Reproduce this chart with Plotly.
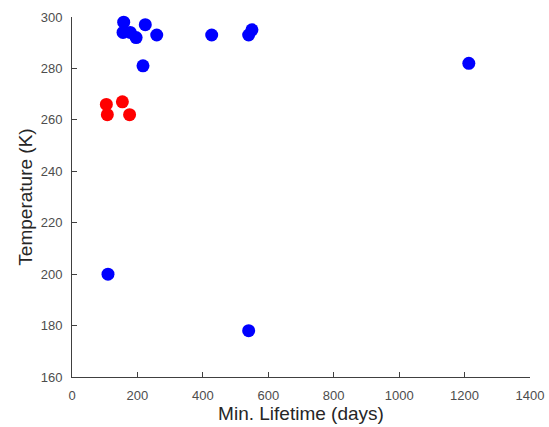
import plotly.graph_objects as go

# Blue series
blue_x = [158, 156, 178, 196, 224, 259, 217, 427, 540, 550, 1213, 110, 540]
blue_y = [298, 294, 294, 292, 297, 293, 281, 293, 293, 295, 282, 200, 178]
# Red series
red_x = [105, 108, 154, 176]
red_y = [266, 262, 267, 262]

x_ticks = [0, 200, 400, 600, 800, 1000, 1200, 1400]
y_ticks = [160, 180, 200, 220, 240, 260, 280, 300]

fig = go.Figure()
fig.add_trace(go.Scatter(x=blue_x, y=blue_y, mode="markers",
                         marker=dict(color="#0000ff", size=13, line=dict(width=0)),
                         showlegend=False, cliponaxis=False))
fig.add_trace(go.Scatter(x=red_x, y=red_y, mode="markers",
                         marker=dict(color="#ff0000", size=13, line=dict(width=0)),
                         showlegend=False, cliponaxis=False))

axis_common = dict(showline=True, linecolor="#404040", linewidth=1,
                   ticks="inside", ticklen=5, tickcolor="#404040",
                   showgrid=False, zeroline=False, mirror=False, automargin=False,
                   ticklabeloverflow="allow",
                   tickfont=dict(family="Liberation Sans, Arial", size=13, color="#4d4d4d"))

fig.update_layout(
    width=549, height=427,
    margin=dict(l=71.5, r=18.5, t=17, b=50),
    paper_bgcolor="white", plot_bgcolor="white",
    xaxis=dict(range=[0, 1400], tickvals=x_ticks, ticklabelstandoff=6,
               title=dict(text="Min. Lifetime (days)", standoff=3,
                          font=dict(family="Liberation Sans, Arial", size=19, color="#262626")),
               **axis_common),
    yaxis=dict(range=[160, 300], tickvals=y_ticks, ticklabelstandoff=6,
               title=dict(text="Temperature (K)", standoff=3,
                          font=dict(family="Liberation Sans, Arial", size=19, color="#262626")),
               **axis_common),
)

# Remove the browser's default page margin so the figure fills the window.
fig.write_html("out.html", config={"displayModeBar": False},
               post_script="document.body.style.margin='0px';")
